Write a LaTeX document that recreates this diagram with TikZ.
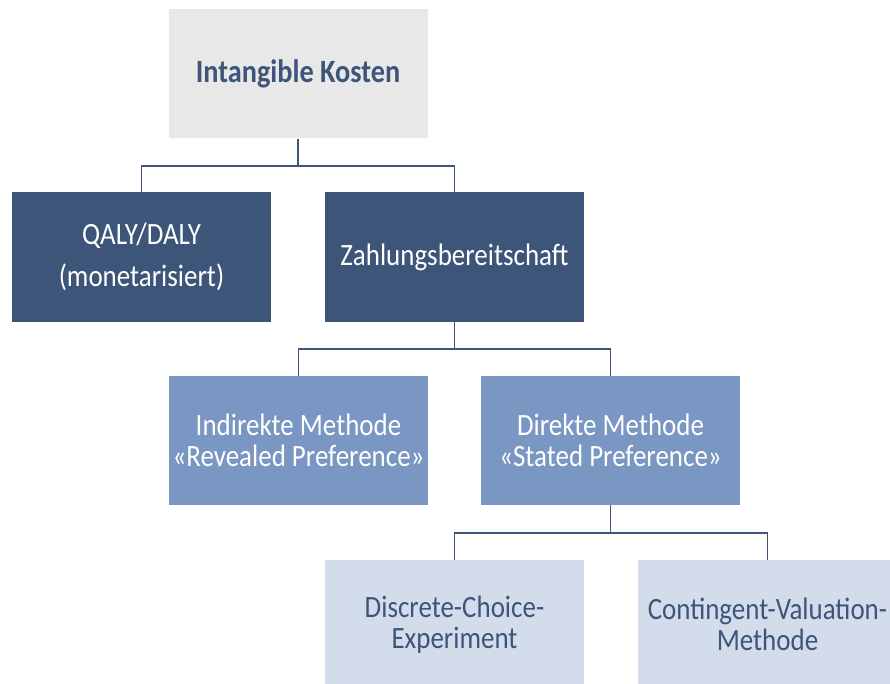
\documentclass[tikz,border=0pt]{standalone}
\usepackage{fontspec}
\setmainfont{Carlito}[FakeStretch=0.87]
\definecolor{dkblue}{HTML}{3C5579}
\definecolor{mdblue}{HTML}{7A96C2}
\definecolor{ltblue}{HTML}{D3DCEA}
\definecolor{ltgray}{HTML}{E8E8E8}
\tikzset{
  box/.style={rectangle, minimum width=259pt, minimum height=129pt, inner sep=0pt, align=center, font=\fontsize{31}{31}\selectfont},
  lvlA/.style={box, fill=ltgray, text=dkblue, font=\fontsize{32.5}{31}\selectfont\bfseries},
  lvlB/.style={box, fill=dkblue, text=white},
  lvlC/.style={box, fill=mdblue, text=white},
  lvlD/.style={box, fill=ltblue, text=dkblue},
  conn/.style={draw=dkblue, line width=1.4pt}
}
\begin{document}
\begin{tikzpicture}[x=1pt,y=-1pt]
\useasboundingbox (0,0) rectangle (890,684);
\fill[white] (0,0) rectangle (890,684);
\node[lvlA] (top) at (298,74) {Intangible Kosten};
\node[lvlB] (qaly) at (141.5,257) {QALY/DALY\\[11pt](monetarisiert)};
\node[lvlB] (zahl) at (454.5,257) {Zahlungsbereitschaft};
\node[lvlC] (ind) at (298.5,440.5) {Indirekte Methode\\«Revealed Preference»};
\node[lvlC] (dir) at (610.5,440.5) {Direkte Methode\\«Stated Preference»};
\node[lvlD] (disc) at (454.5,624.5) {Discrete-Choice-\\Experiment};
\node[lvlD] (cont) at (767.5,624.5) {Contingent-Valuation-\\Methode};
\coordinate (j1) at (298,166);
\coordinate (j2) at (454.5,349);
\coordinate (j3) at (610.5,533);
\draw[conn] (top.south) -- (j1) -| (qaly.north);
\draw[conn] (j1) -| (zahl.north);
\draw[conn] (zahl.south) -- (j2) -| (ind.north);
\draw[conn] (j2) -| (dir.north);
\draw[conn] (dir.south) -- (j3) -| (disc.north);
\draw[conn] (j3) -| (cont.north);
\end{tikzpicture}
\end{document}
